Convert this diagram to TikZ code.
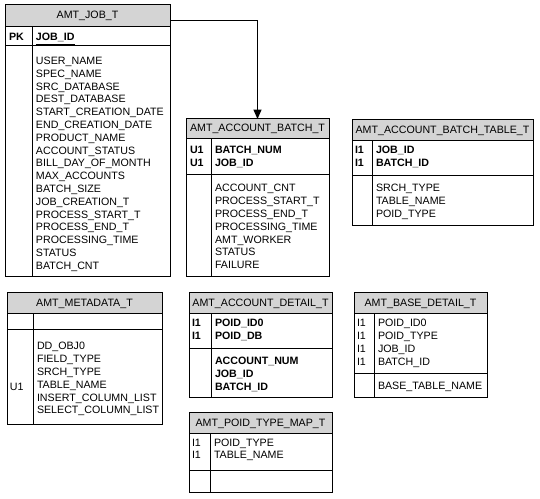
\documentclass[tikz,border=0pt]{standalone}
\usepackage{fontspec}
\setmainfont{Liberation Sans}
\usetikzlibrary{arrows.meta}
\definecolor{hdrgray}{RGB}{212,212,212}
\newcommand\rowsat[5]{%
  \foreach \t [count=\i from 0] in {#5} {
    \node[#4, anchor=base west] (#1\i) at (#2, {#3+12.8*\i}) {\t};
  }%
}
\begin{document}
\begin{tikzpicture}[x=0.75pt, y=-0.75pt,
  every node/.style={font=\fontsize{8}{9.6}\selectfont, inner sep=0pt, outer sep=0pt},
  hdr/.style={draw=black, fill=hdrgray, line width=0.75pt, anchor=north west},
  boxline/.style={draw=black, line width=0.75pt},
  plain/.style={},
  bold/.style={font=\fontsize{8}{9.6}\selectfont\bfseries},
  link/.style={draw=black, line width=0.75pt, -{Triangle[width=6pt,length=7pt]}}
]
\useasboundingbox (0,0) rectangle (540,499);

% ---------- AMT_JOB_T ----------
\node[hdr, minimum width=165*0.75pt, minimum height=22*0.75pt] (jobh) at (5,5) {AMT\_JOB\_T};
\draw[boxline] (5,27) rectangle (170,277);
\draw[boxline] (5,46) -- (170,46);
\draw[boxline] (32,27) -- (32,277);
\node[bold, anchor=base west] (jobpk) at (9,41) {PK};
\node[bold, anchor=base west] (jobk) at (36,41) {\underline{JOB\_ID}};
\rowsat{jobf}{36}{64.5}{plain}{USER\_NAME,SPEC\_NAME,SRC\_DATABASE,DEST\_DATABASE,START\_CREATION\_DATE,END\_CREATION\_DATE,PRODUCT\_NAME,ACCOUNT\_STATUS,BILL\_DAY\_OF\_MONTH,MAX\_ACCOUNTS,BATCH\_SIZE,JOB\_CREATION\_T,PROCESS\_START\_T,PROCESS\_END\_T,PROCESSING\_TIME,STATUS,BATCH\_CNT}

% ---------- AMT_ACCOUNT_BATCH_T ----------
\node[hdr, minimum width=143*0.75pt, minimum height=20*0.75pt] (accbh) at (186,119) {AMT\_ACCOUNT\_BATCH\_T};
\draw[boxline] (186,139) rectangle (329,277);
\draw[boxline] (186,175) -- (329,175);
\draw[boxline] (211,139) -- (211,277);
\rowsat{accbl}{190}{154}{bold}{U1,U1}
\rowsat{accbk}{215}{154}{bold}{BATCH\_NUM,JOB\_ID}
\rowsat{accbf}{215}{192}{plain}{ACCOUNT\_CNT,PROCESS\_START\_T,PROCESS\_END\_T,PROCESSING\_TIME,AMT\_WORKER,STATUS,FAILURE}

% ---------- AMT_ACCOUNT_BATCH_TABLE_T ----------
\node[hdr, minimum width=181*0.75pt, minimum height=21*0.75pt] (abth) at (352,120) {AMT\_ACCOUNT\_BATCH\_TABLE\_T};
\draw[boxline] (352,141) rectangle (533,226);
\draw[boxline] (352,176) -- (533,176);
\draw[boxline] (372,141) -- (372,226);
\rowsat{abtl}{355}{154}{bold}{I1,I1}
\rowsat{abtk}{376}{154}{bold}{JOB\_ID,BATCH\_ID}
\rowsat{abtf}{376}{192}{plain}{SRCH\_TYPE,TABLE\_NAME,POID\_TYPE}

% ---------- AMT_METADATA_T ----------
\node[hdr, minimum width=155*0.75pt, minimum height=21*0.75pt] (metah) at (7,293) {AMT\_METADATA\_T};
\draw[boxline] (7,314) rectangle (162,425);
\draw[boxline] (7,330) -- (162,330);
\draw[boxline] (33,314) -- (33,425);
\node[plain, anchor=base west] (metau) at (10,390.5) {U1};
\rowsat{metaf}{37}{350}{plain}{DD\_OBJ0,FIELD\_TYPE,SRCH\_TYPE,TABLE\_NAME,INSERT\_COLUMN\_LIST,SELECT\_COLUMN\_LIST}

% ---------- AMT_ACCOUNT_DETAIL_T ----------
\node[hdr, minimum width=143*0.75pt, minimum height=21*0.75pt] (accdh) at (189,293) {AMT\_ACCOUNT\_DETAIL\_T};
\draw[boxline] (189,314) rectangle (332,398);
\draw[boxline] (189,349) -- (332,349);
\draw[boxline] (211,314) -- (211,398);
\rowsat{accdl}{192}{327}{bold}{I1,I1}
\rowsat{accdk}{215}{327}{bold}{POID\_ID0,POID\_DB}
\rowsat{accdf}{215}{365}{bold}{ACCOUNT\_NUM,JOB\_ID,BATCH\_ID}

% ---------- AMT_BASE_DETAIL_T ----------
\node[hdr, minimum width=133*0.75pt, minimum height=21*0.75pt] (baseh) at (354,293) {AMT\_BASE\_DETAIL\_T};
\draw[boxline] (354,314) rectangle (487,398);
\draw[boxline] (354,374) -- (487,374);
\draw[boxline] (374,314) -- (374,398);
\rowsat{basel}{357}{327}{plain}{I1,I1,I1,I1}
\rowsat{basek}{378}{327}{plain}{POID\_ID0,POID\_TYPE,JOB\_ID,BATCH\_ID}
\node[plain, anchor=base west] (basef) at (378,390) {BASE\_TABLE\_NAME};

% ---------- AMT_POID_TYPE_MAP_T ----------
\node[hdr, minimum width=143*0.75pt, minimum height=21*0.75pt] (poidh) at (189,413) {AMT\_POID\_TYPE\_MAP\_T};
\draw[boxline] (189,434) rectangle (332,493);
\draw[boxline] (189,471) -- (332,471);
\draw[boxline] (210,434) -- (210,493);
\rowsat{poidl}{192}{446}{plain}{I1,I1}
\rowsat{poidk}{214}{446}{plain}{POID\_TYPE,TABLE\_NAME}

% ---------- connector ----------
\coordinate (jobout) at (170,21);
\draw[link] (jobout) -| (accbh.north);
\end{tikzpicture}
\end{document}
